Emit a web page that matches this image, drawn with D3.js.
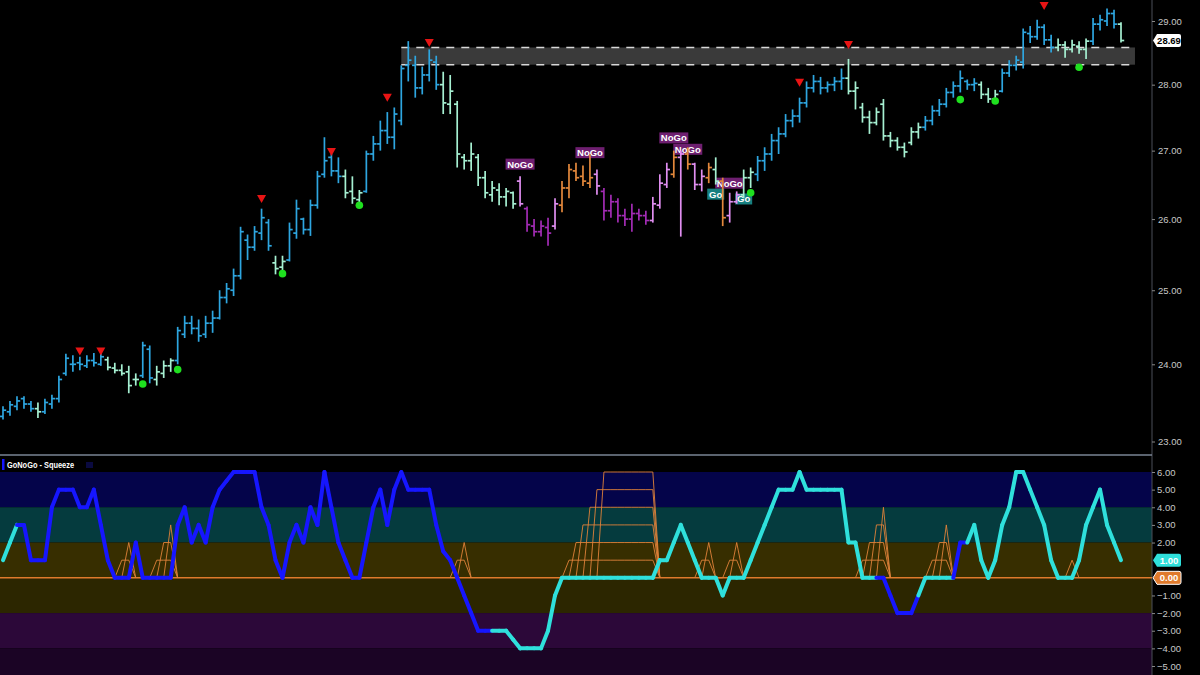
<!DOCTYPE html>
<html><head><meta charset="utf-8">
<script src="https://cdn.jsdelivr.net/npm/d3@7"></script>
<style>body{margin:0;background:#000}svg{display:block}</style>
</head><body><svg id="c" width="1200" height="675"></svg>
<script>
// ---- price bars (OHLC) ----
const opens=[23.32,23.38,23.45,23.55,23.48,23.42,23.38,23.48,23.55,23.88,24.00,24.02,23.98,24.05,24.00,24.06,23.95,23.92,23.90,23.80,23.85,24.20,23.80,23.88,23.98,24.05,24.40,24.55,24.48,24.40,24.55,24.62,24.90,25.00,25.20,25.70,25.60,25.80,25.95,25.38,25.32,25.42,25.80,26.00,25.85,26.20,26.65,26.90,26.70,26.62,26.40,26.28,26.40,26.95,27.10,27.30,27.20,27.45,28.30,28.30,27.95,28.15,28.35,28.00,27.70,27.70,26.90,26.85,26.90,26.60,26.35,26.42,26.32,26.38,26.55,26.15,25.90,25.82,25.88,25.90,26.20,26.45,26.70,26.62,26.52,26.65,26.40,26.12,26.25,26.05,26.00,26.08,26.05,25.98,26.20,26.50,26.65,26.90,26.95,26.80,26.50,26.60,26.72,26.55,26.05,26.25,26.35,26.60,26.65,26.85,26.95,27.15,27.25,27.45,27.52,27.72,27.95,28.05,27.95,28.00,28.05,28.10,27.90,27.65,27.50,27.42,27.70,27.22,27.15,27.05,27.12,27.28,27.35,27.45,27.60,27.70,27.88,27.98,28.05,28.00,28.00,27.85,27.78,27.90,28.18,28.30,28.35,28.80,28.75,28.90,28.70,28.58,28.62,28.55,28.60,28.55,28.68,28.95,29.00,29.12,28.95];
const highs=[23.45,23.52,23.58,23.58,23.52,23.50,23.55,23.60,23.85,24.14,24.12,24.10,24.12,24.15,24.18,24.10,24.02,24.00,23.98,23.88,24.30,24.25,23.98,24.05,24.08,24.50,24.65,24.65,24.60,24.65,24.72,25.00,25.10,25.30,25.89,25.78,25.90,26.15,26.00,25.48,25.48,25.95,26.28,26.02,26.28,26.70,27.20,26.95,26.90,26.72,26.62,26.42,27.00,27.22,27.45,27.58,27.65,28.30,28.68,28.45,28.28,28.55,28.45,28.20,28.15,27.75,26.95,27.12,26.95,26.70,26.55,26.52,26.45,26.40,26.62,26.18,26.00,25.98,26.02,26.30,26.55,26.80,26.82,26.78,26.95,26.72,26.45,26.35,26.30,26.15,26.22,26.15,26.12,26.32,26.65,26.82,27.00,27.00,27.05,26.82,26.72,26.82,26.90,26.60,26.38,26.40,26.72,26.75,26.92,27.05,27.25,27.35,27.55,27.62,27.80,28.05,28.15,28.12,28.05,28.12,28.25,28.40,28.05,27.72,27.60,27.65,27.78,27.28,27.20,27.12,27.35,27.42,27.52,27.68,27.78,27.95,28.05,28.22,28.08,28.10,28.05,27.95,27.92,28.25,28.38,28.45,28.88,28.92,29.02,28.95,28.78,28.72,28.68,28.70,28.68,28.72,29.05,29.10,29.20,29.18,28.98];
const lows=[23.28,23.33,23.40,23.42,23.38,23.30,23.35,23.42,23.50,23.85,23.90,23.92,23.95,23.97,23.98,23.92,23.88,23.85,23.62,23.72,23.82,23.75,23.72,23.82,23.90,24.00,24.35,24.40,24.30,24.35,24.42,24.60,24.82,24.92,25.15,25.42,25.55,25.70,25.55,25.22,25.26,25.40,25.72,25.78,25.76,26.15,26.60,26.62,26.52,26.30,26.22,26.20,26.38,26.85,27.00,27.10,27.02,27.38,28.05,27.80,27.85,28.05,27.92,27.55,27.55,26.75,26.72,26.70,26.48,26.30,26.25,26.20,26.18,26.15,26.18,25.82,25.75,25.75,25.62,25.85,26.10,26.30,26.55,26.48,26.45,26.35,25.98,26.02,25.95,25.90,25.82,25.98,25.92,25.95,26.15,26.45,26.60,25.75,26.72,26.42,26.40,26.52,26.50,25.90,25.95,26.22,26.30,26.45,26.55,26.70,26.85,26.95,27.20,27.35,27.42,27.65,27.88,27.85,27.88,27.90,27.92,27.85,27.62,27.42,27.25,27.38,27.15,27.05,27.00,26.90,27.08,27.18,27.30,27.38,27.52,27.65,27.80,27.88,27.92,27.90,27.78,27.72,27.75,27.88,28.12,28.22,28.25,28.65,28.70,28.62,28.50,28.52,28.42,28.50,28.48,28.40,28.62,28.85,28.92,28.88,28.66];
const closes=[23.40,23.47,23.52,23.48,23.42,23.38,23.50,23.55,23.80,24.08,24.00,24.00,24.05,24.02,24.10,23.96,23.92,23.88,23.72,23.80,24.25,23.82,23.90,23.98,24.05,24.45,24.55,24.48,24.38,24.55,24.62,24.90,25.02,25.20,25.82,25.60,25.82,26.02,25.62,25.30,25.40,25.85,26.15,25.85,26.20,26.62,26.85,26.70,26.62,26.38,26.30,26.38,26.95,27.10,27.30,27.20,27.55,28.25,28.38,27.95,28.15,28.38,28.00,27.72,27.90,26.95,26.85,26.95,26.60,26.38,26.45,26.32,26.40,26.22,26.22,25.92,25.82,25.90,25.80,26.22,26.45,26.72,26.60,26.55,26.60,26.48,26.12,26.25,26.05,26.00,26.08,26.05,25.98,26.22,26.52,26.72,26.90,26.95,26.80,26.50,26.62,26.75,26.55,26.02,26.25,26.35,26.60,26.68,26.85,26.95,27.15,27.25,27.45,27.52,27.72,27.95,28.05,27.95,28.00,28.05,28.10,27.90,27.95,27.50,27.42,27.58,27.22,27.15,27.05,26.98,27.28,27.35,27.45,27.60,27.70,27.88,27.98,28.10,28.00,28.02,27.85,27.78,27.85,28.18,28.30,28.38,28.82,28.75,28.90,28.70,28.58,28.62,28.55,28.62,28.55,28.68,28.95,29.02,29.12,28.95,28.69];
const barState=["go","go","go","go","go","goW","go","go","go","go","go","go","go","go","go","goW","goW","goW","goW","goW","go","go","goW","goW","goW","go","go","go","go","go","go","go","go","go","go","go","go","go","go","goW","goW","go","go","go","go","go","go","go","go","goW","goW","goW","go","go","go","go","go","go","go","go","go","go","go","goW","goW","goW","goW","goW","goW","goW","goW","goW","goW","goW","nogoW","nogo","nogo","nogo","nogo","nogoW","amb","amb","amb","amb","amb","nogoW","nogo","nogo","nogo","nogo","nogo","nogo","nogo","nogoW","nogoW","nogoW","amb","nogoW","amb","nogoW","nogoW","amb","goW","amb","nogoW","nogoW","goW","goW","go","go","go","go","go","go","go","go","go","go","go","go","go","goW","goW","goW","goW","goW","goW","goW","goW","goW","goW","goW","go","go","go","go","go","go","go","go","goW","goW","goW","go","go","go","go","go","go","go","go","goW","goW","goW","goW","goW","go","go","go","go","goW"];

// markers
const triIdx=[11,14,37,47,55,61,114,121,149];
const triPrice=[24.17,24.17,26.29,26.98,27.80,28.65,28.03,28.62,29.24];
const dotIdx=[20,25,40,51,107,137,142,154];
const dotPrice=[23.74,23.93,25.23,26.20,26.38,27.77,27.75,28.27];
const labelIdx=[74,84,96,98,104,102,106];
const labelText=["NoGo","NoGo","NoGo","NoGo","NoGo","Go","Go"];
const labelPrice=[26.80,26.97,27.19,27.02,26.52,26.36,26.29];
const zonePrices=[28.58,28.31];
const zoneIdx=[57,162];
const lastPrice=28.69;
const priceTicks=[23,24,25,26,27,28,29];

// ---- oscillator ----
const osc=[1,2,3,3,1,1,1,4,5,5,5,4,4,5,3,1,0,0,0,2,0,0,0,0,0,3,4,2,3,2,4,5,5.5,6,6,6,6,4,3,1,0,2,3,2,4,3,6,4,2,1,0,0,2,4,5,3,5,6,5,5,5,5,3,1.5,1,0,-1,-2,-3,-3,-3,-3,-3,-3.5,-4,-4,-4,-4,-3,-1,0,0,0,0,0,0,0,0,0,0,0,0,0,0,1,1,2,3,2,1,0,0,0,-1,0,0,0,1,2,3,4,5,5,5,6,5,5,5,5,5,5,2,2,0,0,0,0,-1,-2,-2,-2,-1,0,0,0,0,0,2,2,3,1,0,1,3,4,6,6,5,4,3,1,0,0,0,1,3,4,5,3,2,1];
const oscState=[];
for(let i=0;i<osc.length;i++){oscState.push((i>=3&&i<=70)||(i>=126&&i<=131)||(i>=137&&i<=138)?"b":"c");}
const sqz=new Array(osc.length).fill(0);
const sqzIdx=[17,18,22,23,24,65,66,81,82,83,84,85,86,87,88,89,90,91,92,93,100,101,104,105,123,124,125,126,133,134,135,153];
const sqzVal=[1,2,1,2,3,1,2,1,2,3,4,5,6,6,6,6,6,6,6,6,1,2,1,2,1,2,3,4,1,2,3,1];
sqzIdx.forEach((k,j)=>sqz[k]=sqzVal[j]);
const oscTicks=[6,5,4,3,2,-1,-2,-3,-4,-5];
const bands=[[6,4,"#04044a"],[4,2,"#053b3e"],[2,0,"#372e00"],[0,-2,"#2c2600"],[-2,-4,"#2c0839"],[-4,-6,"#1b0425"]];

const barColor={go:"#2ea6e0",goW:"#a6f0d2",nogo:"#a32cb5",nogoW:"#e08ef0",amb:"#e3883c"};
const svg=d3.select("#c");
svg.append("rect").attr("width",1200).attr("height",675).attr("fill","#000");

const N=opens.length;
const x=d3.scaleLinear().domain([0,160]).range([3,1121]);
const y=d3.scaleLog().domain([23,29]).range([441.5,21]);
const y2=d3.scaleLinear().domain([-5,6]).range([666,472]);
const AX=1152;
const fontF="Liberation Sans, Arial, sans-serif";

// lower panel bands
const bandG=svg.append("g");
bands.forEach(b=>{
  const top=y2(b[0]), bot=Math.min(675,y2(b[1]));
  bandG.append("rect").attr("x",0).attr("y",top).attr("width",AX).attr("height",bot-top).attr("fill",b[2]);
});

// resistance zone
const zx0=x(zoneIdx[0]), zx1=x(zoneIdx[1]);
svg.append("rect").attr("x",zx0).attr("y",y(zonePrices[0])).attr("width",zx1-zx0).attr("height",y(zonePrices[1])-y(zonePrices[0])).attr("fill","#3a3a3a");
zonePrices.forEach(p=>{
  svg.append("line").attr("x1",zx0).attr("x2",zx1).attr("y1",y(p)).attr("y2",y(p)).attr("stroke","#d8d8d8").attr("stroke-width",1.6).attr("stroke-dasharray","8,7");
});

// labels
labelIdx.forEach((k,j)=>{
  const t=labelText[j], w=t==="Go"?17:29, cx=x(k), cy=y(labelPrice[j]);
  svg.append("rect").attr("x",cx-w/2).attr("y",cy-5.5).attr("width",w).attr("height",11).attr("fill",t==="Go"?"#178080":"#6e1f70");
  svg.append("text").attr("x",cx).attr("y",cy+3.5).attr("text-anchor","middle").attr("fill","#fff").attr("font-family",fontF).attr("font-weight","bold").attr("font-size",9.5).text(t);
});

// bars
const bg=svg.append("g").attr("stroke-width",1.7);
for(let i=0;i<N;i++){
  const c=barColor[barState[i]], xi=x(i);
  bg.append("line").attr("x1",xi).attr("x2",xi).attr("y1",y(highs[i])).attr("y2",y(lows[i])).attr("stroke",c);
  bg.append("line").attr("x1",xi-3.2).attr("x2",xi).attr("y1",y(opens[i])).attr("y2",y(opens[i])).attr("stroke",c);
  bg.append("line").attr("x1",xi).attr("x2",xi+3.2).attr("y1",y(closes[i])).attr("y2",y(closes[i])).attr("stroke",c);
}
// triangles
triIdx.forEach((k,j)=>{
  const cx=x(k), cy=y(triPrice[j]);
  svg.append("path").attr("d",`M${cx-4.5},${cy-4}L${cx+4.5},${cy-4}L${cx},${cy+4}Z`).attr("fill","#e81414");
});
dotIdx.forEach((k,j)=>{
  svg.append("circle").attr("cx",x(k)).attr("cy",y(dotPrice[j])).attr("r",3.8).attr("fill","#1fe01f");
});

// right axis
svg.append("line").attr("x1",AX).attr("x2",AX).attr("y1",0).attr("y2",675).attr("stroke","#4a4f58").attr("stroke-width",1);
svg.append("line").attr("x1",0).attr("x2",AX).attr("y1",455).attr("y2",455).attr("stroke","#7a8494").attr("stroke-width",1.5);
const yAxis=d3.axisRight(y).tickValues(priceTicks).tickFormat(d3.format(".2f")).tickSize(3);
const ga=svg.append("g").attr("transform",`translate(${AX},0)`).call(yAxis);
ga.select(".domain").remove();
ga.selectAll("line").attr("stroke","#888");
ga.selectAll("text").attr("fill","#c8c8c8").attr("font-size",9.5).attr("font-family",fontF).attr("x",6);

const y2Axis=d3.axisRight(y2).tickValues(oscTicks).tickFormat(d3.format(".2f")).tickSize(3);
const gb=svg.append("g").attr("transform",`translate(${AX},0)`).call(y2Axis);
gb.select(".domain").remove();
gb.selectAll("line").attr("stroke","#888");
gb.selectAll("text").attr("fill","#c8c8c8").attr("font-size",9.5).attr("font-family",fontF).attr("x",5);

// tags
function tag(yv,txt,fill,tc,stroke){
  const g=svg.append("g");
  g.append("path").attr("d",`M${AX+1},${yv}L${AX+5},${yv-6.5}L${AX+27},${yv-6.5}Q${AX+29},${yv-6.5} ${AX+29},${yv-4.5}L${AX+29},${yv+4.5}Q${AX+29},${yv+6.5} ${AX+27},${yv+6.5}L${AX+5},${yv+6.5}Z`).attr("fill",fill).attr("stroke",stroke||"none").attr("stroke-width",1);
  g.append("text").attr("x",AX+17).attr("y",yv+3.5).attr("text-anchor","middle").attr("fill",tc).attr("font-size",9.5).attr("font-weight","bold").attr("font-family",fontF).text(txt);
}
tag(y(lastPrice),d3.format(".2f")(lastPrice),"#ffffff","#000");

// lower panel: zero line
svg.append("line").attr("x1",0).attr("x2",AX).attr("y1",y2(0)).attr("y2",y2(0)).attr("stroke","#e07a2c").attr("stroke-width",1.5);

// squeeze tents
const sqG=svg.append("g");
for(let L=1;L<=6;L++){
  const line=d3.line().defined((d,i)=>sqz[i]>=L||(i>0&&sqz[i-1]>=L)||(i<N-1&&sqz[i+1]>=L)).x((d,i)=>x(i)).y((d,i)=>y2(sqz[i]>=L?L:0));
  sqG.append("path").datum(sqz).attr("d",line).attr("fill","none").attr("stroke","#e0823a").attr("stroke-width",1).attr("opacity",0.9);
}

// oscillator line
const oscG=svg.append("g");
for(let i=1;i<osc.length;i++){
  oscG.append("line").attr("x1",x(i-1)).attr("x2",x(i)).attr("y1",y2(osc[i-1])).attr("y2",y2(osc[i]))
    .attr("stroke",oscState[i]==="b"?"#1616ff":"#2fe0dc").attr("stroke-width",4).attr("stroke-linecap","round");
}

tag(y2(osc[osc.length-1]),d3.format(".2f")(osc[osc.length-1]),"#2fe0dc","#ffffff");
tag(y2(0),"0.00","#e07a2c","#ffffff","#ffffff");

// panel title
svg.append("rect").attr("x",2).attr("y",459).attr("width",2.5).attr("height",11).attr("fill","#1616ff");
svg.append("text").attr("x",7).attr("y",468).attr("fill","#fff").attr("font-size",9).attr("font-weight","bold").attr("font-family",fontF).attr("textLength",67).attr("lengthAdjust","spacingAndGlyphs").text("GoNoGo - Squeeze");
svg.append("rect").attr("x",86).attr("y",462).attr("width",7).attr("height",6).attr("fill","#0a0a40");
</script></body></html>
